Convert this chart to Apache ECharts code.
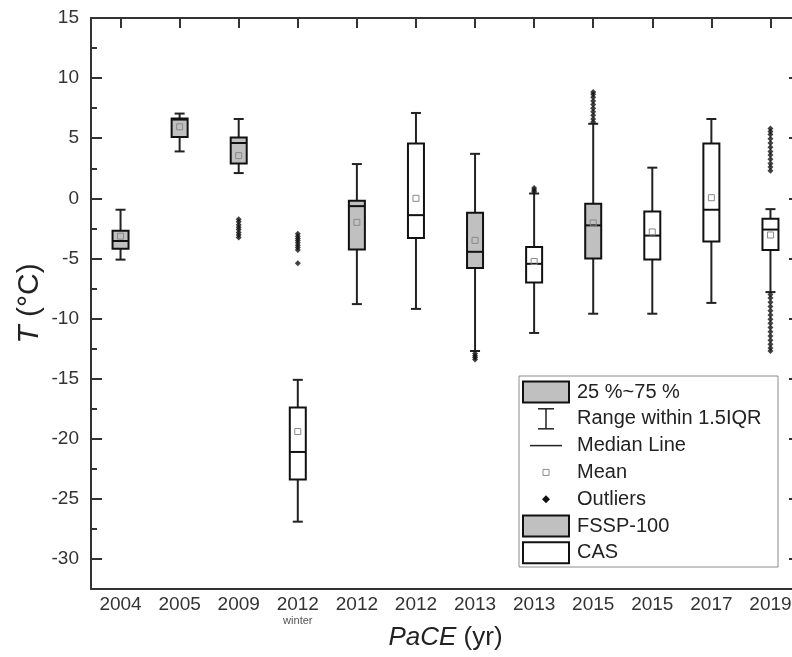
<!DOCTYPE html>
<html>
<head>
<meta charset="utf-8">
<script src="https://cdn.jsdelivr.net/npm/echarts@6/dist/echarts.min.js"></script>
<style>
  html, body { margin: 0; padding: 0; background: #fff; }
  #chart { width: 792px; height: 657px; }
</style>
</head>
<body>
<div id="chart"></div>
<script>
// Campaign labels along the x axis
const categories = ['2004', '2005', '2009', '2012w', '2012', '2012', '2013', '2013', '2015', '2015', '2017', '2019'];
// Instrument per campaign: FSSP-100 (grey boxes) or CAS (white boxes)
const instrument = ['FSSP', 'FSSP', 'FSSP', 'CAS', 'FSSP', 'CAS', 'FSSP', 'CAS', 'FSSP', 'CAS', 'CAS', 'CAS'];

// Box statistics, temperature in °C
const whiskerLow  = [-5.1, 3.9, 2.1, -26.9, -8.8, -9.2, -12.7, -11.2, -9.6, -9.6, -8.7, -7.8];
const q1          = [-4.2, 5.1, 2.9, -23.4, -4.25, -3.3, -5.8, -7.0, -5.0, -5.1, -3.6, -4.3];
const median      = [-3.55, 6.55, 4.6, -21.1, -0.65, -1.4, -4.45, -5.45, -2.25, -3.1, -0.95, -2.6];
const q3          = [-2.7, 6.65, 5.05, -17.4, -0.2, 4.55, -1.2, -4.05, -0.45, -1.1, 4.55, -1.7];
const whiskerHigh = [-0.95, 7.05, 6.6, -15.1, 2.85, 7.1, 3.7, 0.4, 6.2, 2.55, 6.6, -0.9];
const mean        = [-3.15, 5.95, 3.55, -19.4, -2.0, 0.0, -3.5, -5.25, -2.05, -2.8, 0.05, -3.05];

// Outlying values per campaign index
const outliers2009   = [-1.75, -1.95, -2.2, -2.4, -2.6, -2.85, -3.05, -3.25];
const outliers2012w  = [-2.95, -3.15, -3.35, -3.5, -3.7, -3.9, -4.1, -4.3, -5.4];
const outliers2013a  = [-12.9, -13.1, -13.25, -13.4];
const outliers2013b  = [0.55, 0.7, 0.85];
const outliers2015a  = [6.35, 6.6, 6.9, 7.2, 7.5, 7.8, 8.1, 8.4, 8.65, 8.85];
const outliers2019   = [2.3, 2.6, 2.9, 3.25, 3.6, 3.9, 4.25, 4.6, 4.95, 5.3, 5.55, 5.8,
                        -8.0, -8.3, -8.65, -9.0, -9.35, -9.7, -10.05, -10.4, -10.75, -11.1, -11.45, -11.8, -12.15, -12.45, -12.7];

// Y axis tick values
const yMajorTicks = [-30, -25, -20, -15, -10, -5, 0, 5, 10, 15];
const yMinorTicks = [-27.5, -22.5, -17.5, -12.5, -7.5, -2.5, 2.5, 7.5, 12.5];

// Legend entries
const legendLabels = ['25 %~75 %', 'Range within 1.5IQR', 'Median Line', 'Mean', 'Outliers', 'FSSP-100', 'CAS'];

const FONT = '"Liberation Sans", Arial, sans-serif';
const AXIS = '#333';
const GREY = '#c0c0c0';

const boxRows = categories.map((c, i) => [i, whiskerLow[i], q1[i], median[i], q3[i], whiskerHigh[i], mean[i], instrument[i] === 'FSSP' ? 1 : 0]);

const outlierPoints = [];
[[2, outliers2009], [3, outliers2012w], [6, outliers2013a], [7, outliers2013b], [8, outliers2015a], [11, outliers2019]]
  .forEach(([idx, vals]) => vals.forEach(v => outlierPoints.push([idx, v])));

function renderBox(params, api) {
  const i = api.value(0);
  const x = api.coord([i, 0])[0];
  const yLow = api.coord([i, api.value(1)])[1];
  const yQ1 = api.coord([i, api.value(2)])[1];
  const yMed = api.coord([i, api.value(3)])[1];
  const yQ3 = api.coord([i, api.value(4)])[1];
  const yHigh = api.coord([i, api.value(5)])[1];
  const yMean = api.coord([i, api.value(6)])[1];
  const filled = api.value(7) === 1;
  const bw = 16, cw = 10, ms = 6;
  const line = { stroke: '#222', lineWidth: 2 };
  return {
    type: 'group',
    children: [
      { type: 'line', shape: { x1: x, y1: yHigh, x2: x, y2: yQ3 }, style: line },
      { type: 'line', shape: { x1: x, y1: yQ1, x2: x, y2: yLow }, style: line },
      { type: 'line', shape: { x1: x - cw / 2, y1: yHigh, x2: x + cw / 2, y2: yHigh }, style: line },
      { type: 'line', shape: { x1: x - cw / 2, y1: yLow, x2: x + cw / 2, y2: yLow }, style: line },
      { type: 'rect', shape: { x: x - bw / 2, y: yQ3, width: bw, height: yQ1 - yQ3 },
        style: { fill: filled ? GREY : '#fff', stroke: '#111', lineWidth: 2 } },
      { type: 'line', shape: { x1: x - bw / 2, y1: yMed, x2: x + bw / 2, y2: yMed }, style: { stroke: '#111', lineWidth: 2 } },
      { type: 'rect', shape: { x: x - ms / 2, y: yMean - ms / 2, width: ms, height: ms },
        style: { fill: 'none', stroke: '#8a8a8a', lineWidth: 1 } }
    ]
  };
}

// Legend drawn as a framed key
const LX = 519, LY = 376, ROW = 26.8, FIRST = 392, ICX = 546;
const legendGraphics = [
  { type: 'rect', shape: { x: LX, y: LY, width: 259, height: 191 }, style: { fill: '#fff', stroke: '#8c8c8c', lineWidth: 1 } },
  { type: 'rect', shape: { x: 523, y: FIRST - 10.5, width: 46, height: 21 }, style: { fill: GREY, stroke: '#111', lineWidth: 2 } },
  { type: 'line', shape: { x1: ICX, y1: FIRST + ROW - 10, x2: ICX, y2: FIRST + ROW + 10 }, style: { stroke: '#222', lineWidth: 1.5 } },
  { type: 'line', shape: { x1: ICX - 8, y1: FIRST + ROW - 10, x2: ICX + 8, y2: FIRST + ROW - 10 }, style: { stroke: '#222', lineWidth: 1.5 } },
  { type: 'line', shape: { x1: ICX - 8, y1: FIRST + ROW + 10, x2: ICX + 8, y2: FIRST + ROW + 10 }, style: { stroke: '#222', lineWidth: 1.5 } },
  { type: 'line', shape: { x1: ICX - 16, y1: FIRST + 2 * ROW, x2: ICX + 16, y2: FIRST + 2 * ROW }, style: { stroke: '#222', lineWidth: 1.5 } },
  { type: 'rect', shape: { x: ICX - 3, y: FIRST + 3 * ROW - 3, width: 6, height: 6 }, style: { fill: 'none', stroke: '#8a8a8a', lineWidth: 1 } },
  { type: 'polygon', shape: { points: [[ICX, FIRST + 4 * ROW - 4], [ICX + 4, FIRST + 4 * ROW], [ICX, FIRST + 4 * ROW + 4], [ICX - 4, FIRST + 4 * ROW]] }, style: { fill: '#111' } },
  { type: 'rect', shape: { x: 523, y: FIRST + 5 * ROW - 10.5, width: 46, height: 21 }, style: { fill: GREY, stroke: '#111', lineWidth: 2 } },
  { type: 'rect', shape: { x: 523, y: FIRST + 6 * ROW - 10.5, width: 46, height: 21 }, style: { fill: '#fff', stroke: '#111', lineWidth: 2 } }
];
legendLabels.forEach((t, k) => {
  legendGraphics.push({
    type: 'text', x: 577, y: FIRST + k * ROW,
    style: { text: t, fill: '#222', font: '20px ' + FONT, verticalAlign: 'middle', align: 'left' }
  });
});

const tickStyle = { color: AXIS, width: 2 };
const gridBox = { left: 91, top: 18, width: 709, height: 571, containLabel: false, outerBoundsMode: 'none' };

const option = {
  animation: false,
  backgroundColor: '#fff',
  grid: [gridBox, Object.assign({}, gridBox)],
  xAxis: [
    {
      type: 'category', gridIndex: 0, data: categories, position: 'bottom', boundaryGap: true,
      axisLine: { onZero: false, lineStyle: { color: AXIS, width: 2 } },
      axisTick: { inside: true, alignWithLabel: true, length: 10, interval: 0, lineStyle: tickStyle },
      axisLabel: {
        interval: 0, margin: 6, color: '#333', fontFamily: FONT, fontSize: 19, lineHeight: 20,
        formatter: v => v === '2012w' ? '2012\n{w|winter}' : v,
        rich: { w: { fontSize: 11, color: '#555', fontFamily: FONT, lineHeight: 18, verticalAlign: 'top' } }
      },
      splitLine: { show: false },
      name: '{i|PaCE} (yr)', nameLocation: 'middle', nameGap: 36, nameMoveOverlap: false,
      nameTextStyle: { fontSize: 26, color: '#222', fontFamily: FONT, rich: { i: { fontStyle: 'italic', fontSize: 26, color: '#222', fontFamily: FONT } } }
    },
    {
      type: 'category', gridIndex: 0, data: categories, position: 'top', boundaryGap: true,
      axisLine: { onZero: false, lineStyle: { color: AXIS, width: 2 } },
      axisTick: { show: true, inside: true, alignWithLabel: true, length: 10, interval: 0, lineStyle: tickStyle },
      axisLabel: { show: true, interval: 0, formatter: () => '' }, splitLine: { show: false }
    },
    { type: 'category', gridIndex: 1, data: categories, show: false }
  ],
  yAxis: [
    {
      type: 'value', gridIndex: 0, min: -32.5, max: 15, interval: 2.5, position: 'left',
      axisLine: { show: true, onZero: false, lineStyle: { color: AXIS, width: 2 } },
      axisTick: { show: true, inside: true, length: 11, customValues: yMajorTicks, lineStyle: tickStyle },
      axisLabel: { customValues: yMajorTicks, margin: 12, color: '#333', fontFamily: FONT, fontSize: 19 },
      splitLine: { show: false },
      name: '{i|T} (°C)', nameLocation: 'middle', nameGap: 46, nameRotate: 90, nameMoveOverlap: false,
      nameTextStyle: { fontSize: 30, color: '#222', fontFamily: FONT, rich: { i: { fontStyle: 'italic', fontSize: 30, color: '#222', fontFamily: FONT } } }
    },
    {
      type: 'value', gridIndex: 0, min: -32.5, max: 15, interval: 2.5, position: 'right',
      axisLine: { show: true, onZero: false, lineStyle: { color: AXIS, width: 2 } },
      axisTick: { show: true, inside: true, length: 11, customValues: yMajorTicks, lineStyle: tickStyle },
      axisLabel: { show: false }, splitLine: { show: false }
    },
    {
      type: 'value', gridIndex: 1, min: -32.5, max: 15, interval: 2.5, position: 'left',
      axisLine: { show: false },
      axisTick: { show: true, inside: true, length: 6, customValues: yMinorTicks, lineStyle: tickStyle },
      axisLabel: { show: false }, splitLine: { show: false }
    },
    {
      type: 'value', gridIndex: 1, min: -32.5, max: 15, interval: 2.5, position: 'right',
      axisLine: { show: false },
      axisTick: { show: true, inside: true, length: 6, customValues: yMinorTicks, lineStyle: tickStyle },
      axisLabel: { show: false }, splitLine: { show: false }
    }
  ],
  series: [
    {
      type: 'custom', xAxisIndex: 0, yAxisIndex: 0, renderItem: renderBox,
      encode: { x: 0, y: [1, 2, 3, 4, 5, 6] },
      data: boxRows, z: 3
    },
    {
      type: 'scatter', xAxisIndex: 0, yAxisIndex: 0, data: outlierPoints,
      symbol: 'diamond', symbolSize: 6, itemStyle: { color: '#111' }, z: 4
    }
  ],
  graphic: legendGraphics
};

const chart = echarts.init(document.getElementById('chart'), null, { renderer: 'canvas' });
chart.setOption(option);
</script>
</body>
</html>
